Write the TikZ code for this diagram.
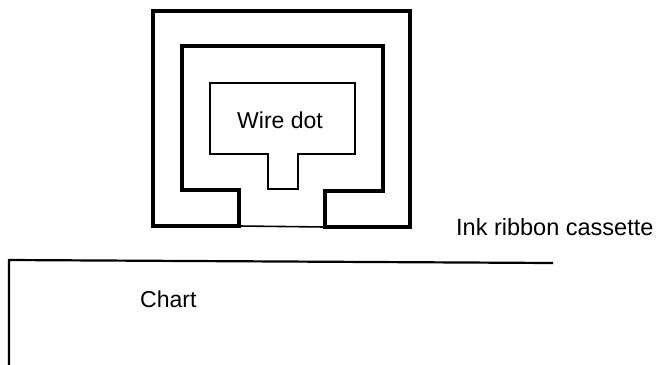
\documentclass[tikz,border=0pt]{standalone}
\usepackage{fontspec}
\setmainfont{Liberation Sans}

\tikzset{
  caption/.style={inner sep=0pt, anchor=base west, font=\fontsize{23}{27}\selectfont},
  thinline/.style={line width=1.6pt},
  frameline/.style={line width=3.6pt, line join=miter}
}

\begin{document}
\begin{tikzpicture}[x=1pt,y=-1pt]
    \useasboundingbox (0,0) rectangle (660,364);
    \begin{scope}

    % ribbon cassette frame
    \draw [frameline] (239,226) -- (153,226) -- (153,11) -- (410,11) -- (410,227)
        -- (325,227) -- (325,191) -- (383,191) -- (383,46) -- (182,46)
        -- (182,190) -- (239,190) -- cycle;
    \draw [thinline] (239,226) -- (325,227);

    % wire dot head
    \draw [thinline] (210,83) -- (355,83) -- (355,154) -- (298,154) -- (298,189)
        -- (268,189) -- (268,154) -- (210,154) -- cycle;

    % chart paper
    \draw [line width=2.2pt] (553,263) -- (9,260) -- (9,370);

    \end{scope}

    \node [caption] (wiredot) at (237,128) {Wire dot};
    \node [caption, font=\fontsize{23.5}{28}\selectfont] (cassette) at (456,235) {Ink ribbon cassette};
    \node [caption] (chart) at (140,307) {Chart};
\end{tikzpicture}
\end{document}
